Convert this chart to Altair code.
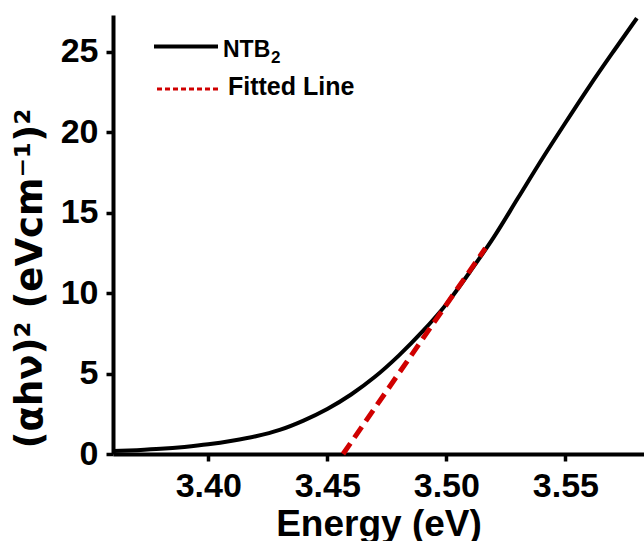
import altair as alt
import pandas as pd

# Measured curve (alpha h nu)^2 vs photon energy
energy = [3.360, 3.370, 3.380, 3.390, 3.400, 3.410, 3.420, 3.430, 3.440,
          3.450, 3.460, 3.470, 3.480, 3.490, 3.500, 3.510, 3.520, 3.530,
          3.540, 3.550, 3.560, 3.570, 3.580]
absorb = [0.18, 0.24, 0.32, 0.44, 0.60, 0.82, 1.10, 1.50, 2.08,
          2.80, 3.70, 4.80, 6.12, 7.62, 9.32, 11.35, 13.50, 15.90,
          18.30, 20.60, 22.85, 25.00, 27.10]

# Tauc fitted line
fit_energy = [3.4566, 3.5164]
fit_values = [0.0, 12.8]

x_ticks = [3.40, 3.45, 3.50, 3.55]
y_ticks = [0, 5, 10, 15, 20, 25]
legend_labels = ["NTB", "2", "Fitted Line"]

FONT = "Liberation Sans, Arial, sans-serif"

curve_df = pd.DataFrame({"Energy": energy, "Value": absorb})
fit_df = pd.DataFrame({"Energy": fit_energy, "Value": fit_values})

x_scale = alt.Scale(domain=[3.36, 3.583], nice=False, zero=False)
y_scale = alt.Scale(domain=[0, 27.3], nice=False, zero=False)

x_axis = alt.Axis(
    values=x_ticks, format=".2f", title="Energy (eV)",
    labelFont=FONT, labelFontSize=34, labelFontWeight="bold", labelColor="black",
    titleFont=FONT, titleFontSize=37, titleFontWeight="bold", titleColor="black",
    titleY=52, titleBaseline="top",
    domainColor="black", domainWidth=4, tickColor="black", tickWidth=3.5,
    tickSize=7, labelPadding=8, grid=False, labelFlush=False,
)
y_axis = alt.Axis(
    values=y_ticks, format="d",
    title="(\u03b1h\u03bd)\u00b2 (eVcm\u207b\u00b9)\u00b2",
    labelFont=FONT, labelFontSize=34, labelFontWeight="bold", labelColor="black",
    titleFont="DejaVu Sans", titleFontSize=37, titleFontWeight="bold", titleColor="black",
    titleX=-83, titleY=263, titleBaseline="middle", titleAlign="center",
    domainColor="black", domainWidth=4, tickColor="black", tickWidth=3.5,
    tickSize=7, labelPadding=8, grid=False, labelFlush=False,
)

curve = alt.Chart(curve_df).mark_line(
    color="black", strokeWidth=4, interpolate="monotone"
).encode(
    x=alt.X("Energy:Q", scale=x_scale, axis=x_axis),
    y=alt.Y("Value:Q", scale=y_scale, axis=y_axis),
)

fit = alt.Chart(fit_df).mark_line(
    color="#d00000", strokeWidth=5, strokeDash=[13, 7]
).encode(
    x=alt.X("Energy:Q", scale=x_scale),
    y=alt.Y("Value:Q", scale=y_scale),
)

leg_black = alt.Chart().mark_rule(color="black", strokeWidth=4).encode(
    x=alt.value(41), x2=alt.value(105), y=alt.value(31.5)
)
leg_red = alt.Chart().mark_rule(color="#d00000", strokeWidth=3, strokeDash=[5, 3]).encode(
    x=alt.value(44), x2=alt.value(105), y=alt.value(74)
)
leg_t1 = alt.Chart().mark_text(
    text=legend_labels[0], font=FONT, fontSize=23, fontWeight="bold",
    align="left", baseline="alphabetic", color="black"
).encode(x=alt.value(110), y=alt.value(42))
leg_t1s = alt.Chart().mark_text(
    text=legend_labels[1], font=FONT, fontSize=17, fontWeight="bold",
    align="left", baseline="alphabetic", color="black"
).encode(x=alt.value(158), y=alt.value(48))
leg_t2 = alt.Chart().mark_text(
    text=legend_labels[2], font=FONT, fontSize=25, fontWeight="bold",
    align="left", baseline="alphabetic", color="black"
).encode(x=alt.value(115), y=alt.value(80))

chart = alt.layer(curve, fit, leg_black, leg_red, leg_t1, leg_t1s, leg_t2).properties(
    width=531, height=439,
    autosize=alt.AutoSizeParams(type="none"),
    padding={"left": 113, "top": 15, "right": 0, "bottom": 87},
    background="white",
).configure_view(stroke=None)

chart.save("out.html", embed_options={"renderer": "svg", "actions": False})
